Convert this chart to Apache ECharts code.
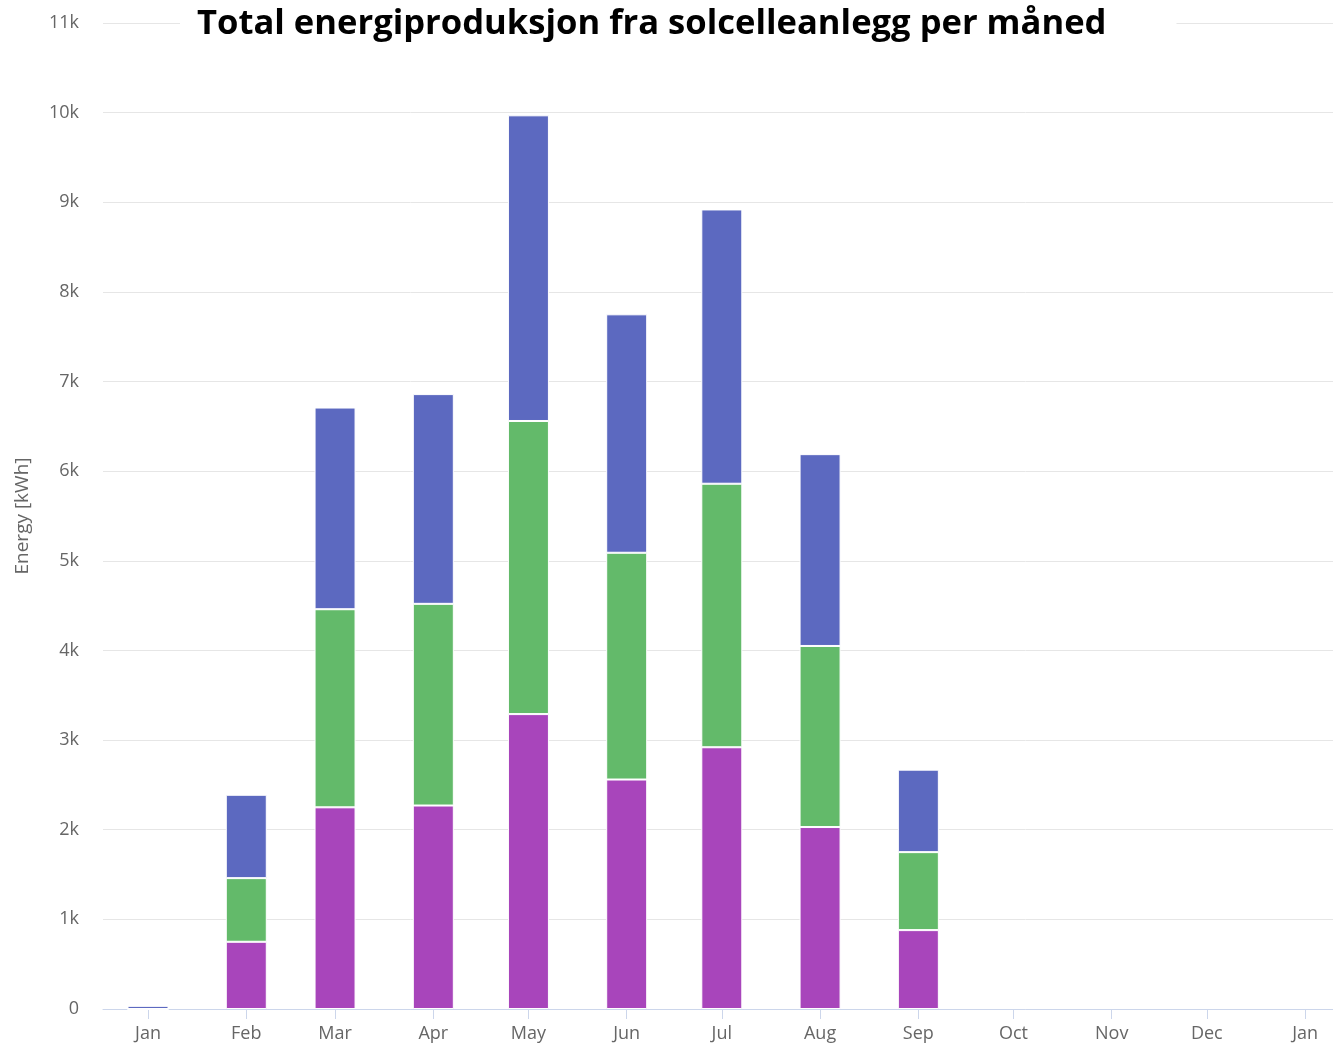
<!DOCTYPE html>
<html><head><meta charset="utf-8">
<script src="https://cdn.jsdelivr.net/npm/echarts@6/dist/echarts.min.js"></script>
<style>html,body{margin:0;padding:0;background:#fff}#c{width:1333px;height:1045px}</style>
</head><body><div id="c"></div>
<script>
const months = ['2023-01','2023-02','2023-03','2023-04','2023-05','2023-06','2023-07','2023-08','2023-09'];
const purple = [0, 750, 2250, 2270, 3290, 2560, 2920, 2030, 880];
const green  = [0, 710, 2210, 2250, 3270, 2530, 2940, 2020, 870];
const blue   = [35, 930, 2250, 2340, 3410, 2660, 3060, 2140, 920];
const yTickLabels = ['0','1k','2k','3k','4k','5k','6k','7k','8k','9k','10k','11k'];

function ts(m){ const p=m.split('-'); return new Date(+p[0], +p[1]-1, 1).getTime(); }
const DAY = 86400000;
// ECharts widens a time axis with bars by the bar width; pre-shrink the extent so the
// final visible range is about 14.2 days before Jan 1 to 388 days later.
const BAR_W = 41, AXIS_LEN = 1230;
const finalSpan = 388, finalLead = 14.2;
const rawSpan = finalSpan * (AXIS_LEN - BAR_W) / AXIS_LEN;
const xMin = new Date(2023,0,1).getTime() - (finalLead - (finalSpan - rawSpan)/2)*DAY;
const xMax = xMin + rawSpan*DAY;
function pairs(arr){ return months.map((m,i)=>[ts(m), arr[i]]); }

const FONT = 'Open Sans';
const chart = echarts.init(document.getElementById('c'));
function bar(name, data, color){
  return {type:'bar', stack:'e', name:name, barWidth:BAR_W, data:pairs(data),
          itemStyle:{color:color, borderColor:'#fff', borderWidth:1}};
}
chart.setOption({
  animation:false,
  title:{
    text:'Total energiproduksjon fra solcelleanlegg per måned',
    left:180, top:0,
    backgroundColor:'#fff',
    padding:[7,70,3,17],
    textStyle:{fontFamily:FONT, fontWeight:'bold', fontSize:34.6, color:'#000'}
  },
  grid:{left:103, right:0, top:23, bottom:36, containLabel:false},
  xAxis:{
    type:'time', min:xMin, max:xMax,
    minInterval:28*DAY, maxInterval:31*DAY,
    axisLine:{lineStyle:{color:'#ccd6eb'}},
    axisTick:{show:true, length:10, lineStyle:{color:'#ccd6eb'}},
    splitLine:{show:false},
    axisLabel:{formatter:'{MMM}', color:'#666', fontFamily:FONT, fontSize:18, margin:16, showMinLabel:false, showMaxLabel:false}
  },
  yAxis:{
    type:'value', min:0, max:11000, interval:1000,
    name:'Energy [kWh]', nameLocation:'middle', nameGap:71, nameRotate:90,
    nameTextStyle:{color:'#666', fontFamily:FONT, fontSize:19},
    axisLine:{show:false}, axisTick:{show:false},
    splitLine:{lineStyle:{color:'#e6e6e6'}},
    axisLabel:{formatter:(v)=>yTickLabels[Math.round(v/1000)], color:'#666', fontFamily:FONT, fontSize:18, margin:24}
  },
  series:[
    bar('A', purple, '#a845bb'),
    bar('B', green, '#63ba6a'),
    bar('C', blue, '#5c69c0')
  ]
});
</script></body></html>
